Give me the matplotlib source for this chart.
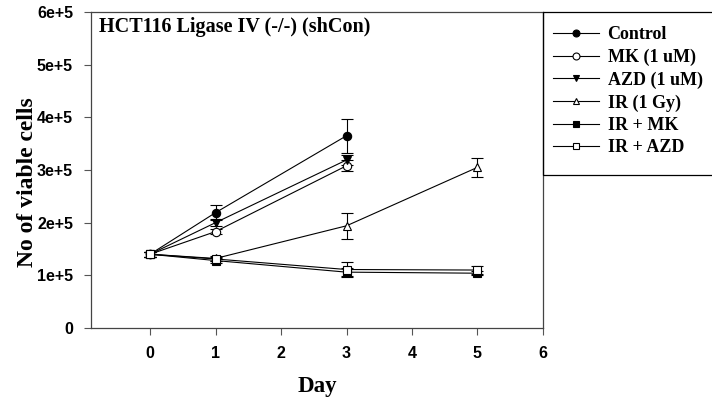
import matplotlib.pyplot as plt
from matplotlib.lines import Line2D
from matplotlib.patches import Rectangle

# cell counts (x 1e5)
days_short = [0, 1, 3]
days_long = [0, 1, 3, 5]

control = [1.40, 2.19, 3.65]
control_err = [0.05, 0.14, 0.32]
mk = [1.40, 1.83, 3.08]
mk_err = [0.05, 0.05, 0.10]
azd = [1.40, 2.00, 3.19]
azd_err = [0.05, 0.07, 0.10]
ir = [1.40, 1.32, 1.94, 3.05]
ir_err = [0.05, 0.04, 0.25, 0.18]
ir_mk = [1.40, 1.28, 1.06, 1.04]
ir_mk_err = [0.05, 0.04, 0.08, 0.04]
ir_azd = [1.40, 1.31, 1.11, 1.10]
ir_azd_err = [0.05, 0.04, 0.14, 0.08]

labels = ["Control", "MK (1 uM)", "AZD (1 uM)", "IR (1 Gy)", "IR + MK", "IR + AZD"]
yticks = [0, 1, 2, 3, 4, 5, 6]
ytick_labels = ["0", "1e+5", "2e+5", "3e+5", "4e+5", "5e+5", "6e+5"]

serif = "Liberation Serif"
sans = "Liberation Sans"

fig = plt.figure(figsize=(7.12, 3.99), dpi=100)
ax = fig.add_axes([0.128, 0.178, 0.6346, 0.792])

series = [
    (days_short, control, control_err, "o", "black"),
    (days_short, mk, mk_err, "o", "white"),
    (days_short, azd, azd_err, "v", "black"),
    (days_long, ir, ir_err, "^", "white"),
    (days_long, ir_mk, ir_mk_err, "s", "black"),
    (days_long, ir_azd, ir_azd_err, "s", "white"),
]

handles = []
for (x, y, e, m, fc), lab in zip(series, labels):
    ax.errorbar(x, [v * 1e5 for v in y], yerr=[v * 1e5 for v in e],
                color="black", lw=0.8, marker=m, markersize=6,
                markerfacecolor=fc, markeredgecolor="black", markeredgewidth=0.8,
                ecolor="black", elinewidth=0.8, capsize=4, capthick=0.8)
    handles.append(Line2D([], [], color="black", lw=0.8, marker=m, markersize=5,
                          markerfacecolor=fc, markeredgecolor="black", markeredgewidth=0.8))

ax.set_xlim(-0.9, 6)
ax.set_ylim(0, 6e5)
ax.set_xticks([0, 1, 2, 3, 4, 5, 6])
ax.set_yticks([v * 1e5 for v in yticks])
ax.set_yticklabels(ytick_labels)
ax.tick_params(direction="out", length=5, width=0.8, color="#555555", labelsize=11.5, pad=8)
for lab in ax.get_xticklabels() + ax.get_yticklabels():
    lab.set_family(sans)
    lab.set_fontweight("bold")
for s in ax.spines.values():
    s.set_linewidth(0.9)
    s.set_color("#444444")

ax.set_xlabel("Day", family=serif, fontsize=16.5, fontweight="bold", labelpad=11)
ax.set_ylabel("No of viable cells", family=serif, fontsize=17, fontweight="bold")
ax.yaxis.set_label_coords(-0.118, 0.46)
ax.text(0.017, 0.985, "HCT116 Ligase IV (-/-) (shCon)", transform=ax.transAxes,
        family=serif, fontsize=14.5, fontweight="bold", va="top", ha="left")

# legend box drawn separately so it runs to the right edge like the original
fig.patches.append(Rectangle((0.7626, 0.561), 0.25, 0.409, transform=fig.transFigure,
                             fill=False, edgecolor="black", lw=0.9))
leg = fig.legend(handles=handles, labels=labels, loc="upper left",
                 bbox_to_anchor=(0.757, 0.97),
                 prop={"family": serif, "weight": "bold", "size": 13},
                 frameon=False, handlelength=2.5,
                 borderpad=0.8, labelspacing=0.3, handletextpad=0.5,
                 borderaxespad=0)

fig.savefig("out.png", dpi=100)
